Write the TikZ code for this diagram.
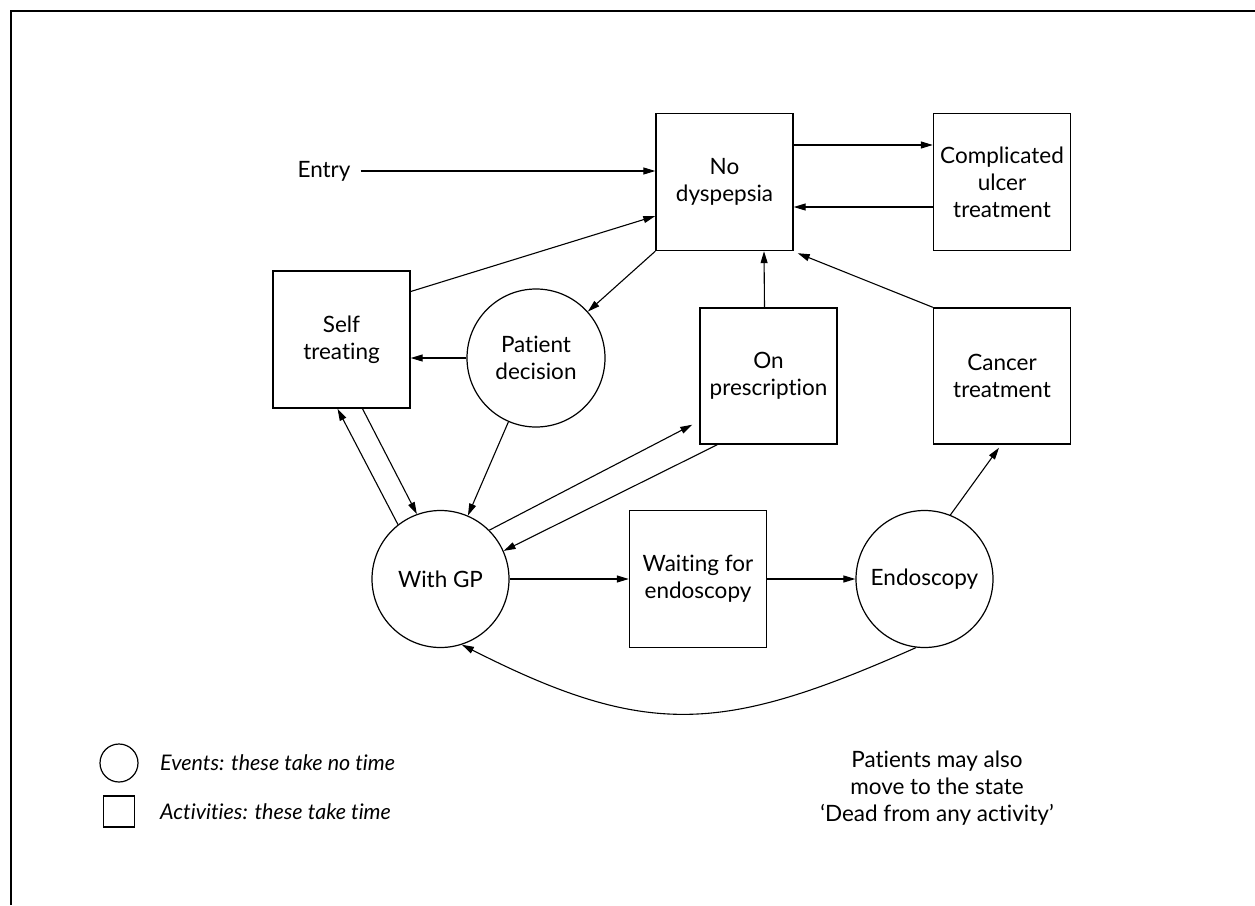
\documentclass[tikz,border=0pt]{standalone}
\usepackage{fontspec}
\setmainfont{Lato}[Ligatures={TeX,NoCommon,NoDiscretionary}]
\usetikzlibrary{arrows.meta}
\begin{document}
\begin{tikzpicture}[x=1pt,y=-1pt,
  txt/.style={font=\fontsize{22.5}{27}\selectfont},
  box/.style={txt, draw, line width=1.4pt, minimum width=137pt, minimum height=137pt, inner sep=0pt, align=center},
  evt/.style={txt, draw, circle, line width=1.2pt, minimum size=137pt, inner sep=0pt, align=center},
  arr/.style={line width=1.1pt, -{Triangle[length=12pt,width=7pt]}},
  legtxt/.style={font=\fontsize{21.5}{25}\selectfont\itshape, anchor=west, inner sep=0pt}]
\useasboundingbox (0,0) rectangle (1255,905);
\draw[line width=2pt] (11,905) -- (11,11) -- (1255,11);

% nodes
\node[box] (nodys) at (724.5,182) {No\\dyspepsia};
\node[box] (comp) at (1002,182) {Complicated\\ulcer\\treatment};
\node[box] (self) at (341.5,339.5) {Self\\treating};
\node[box, minimum height=136pt] (onpres) at (768.5,376) {On\\prescription};
\node[box, minimum height=136pt] (cancer) at (1002,376) {Cancer\\treatment};
\node[box] (wait) at (698,579) {Waiting for\\endoscopy};
\node[evt, minimum size=138pt] (patdec) at (536,358) {Patient\\decision};
\node[evt] (gp) at (440.5,579) {With GP};
\node[evt] (endo) at (924.5,579) {Endoscopy};
\node[txt, inner sep=0pt] (entry) at (324,171) {Entry};

% connectors
\draw[arr] ([xshift=10pt]entry.east) -- (entry.east -| nodys.west);
\draw[arr] ([yshift=37pt]nodys.east) -- ([yshift=37pt]comp.west);
\draw[arr] ([yshift=-25pt]comp.west) -- ([yshift=-25pt]nodys.east);
\draw[arr] ([yshift=48pt]self.east) -- ([yshift=-34pt]nodys.west);
\draw[arr] (nodys.south west) -- (patdec);
\draw[arr] (patdec.west) -- (patdec.west -| self.east);
\draw[arr] (patdec) -- (gp);
\draw[arr] (gp.128) -- ([xshift=-4pt]self.south);
\draw[arr] ([xshift=21pt]self.south) -- (gp.110);
\draw[arr] (gp.45) -- ([xshift=-7pt,yshift=20pt]onpres.south west);
\draw[arr] ([xshift=18pt]onpres.south west) -- (gp.24);
\draw[arr] ([xshift=-4pt]onpres.north) -- ([xshift=39.5pt]nodys.south);
\draw[arr] (cancer.north west) -- ([shift={(4pt,-2pt)}]nodys.south east);
\draw[arr] (gp.east) -- (wait.west);
\draw[arr] (wait.east) -- (endo.west);
\draw[arr] (endo.68) -- ([shift={(-3pt,-3pt)}]cancer.south);
\draw[arr] (endo.-97) .. controls +(-192,85) and +(187,95) .. (gp.-72);

% legend
\node[draw, circle, line width=1.2pt, minimum size=38pt, inner sep=0pt] (legc) at (119,763) {};
\node[legtxt] (legct) at (160,763) {Events: these take no time};
\node[draw, line width=1.4pt, minimum size=31pt, inner sep=0pt] (legs) at (119,811.5) {};
\node[legtxt] (legst) at (160,811.5) {Activities: these take time};

% note
\node[txt, align=center] (note) at (937,788) {Patients may also\\move to the state\\‘Dead from any activity’};
\end{tikzpicture}
\end{document}
